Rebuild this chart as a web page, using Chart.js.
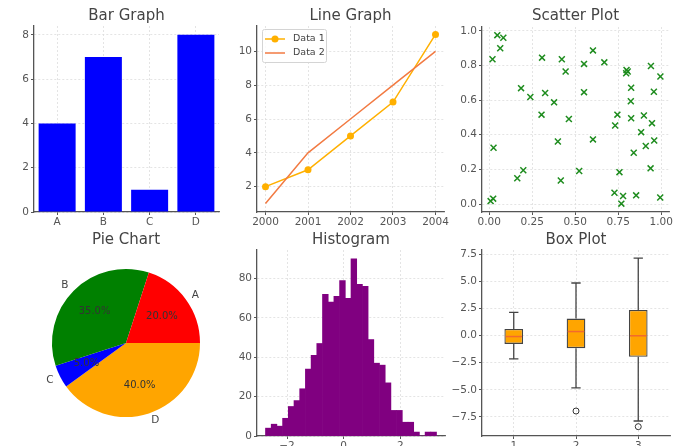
<!DOCTYPE html>
<html>
<head>
<meta charset="utf-8">
<script src="https://cdn.jsdelivr.net/npm/chart.js@4.4.1/dist/chart.umd.min.js"></script>
<style>
  html, body { margin: 0; padding: 0; background: #fff; overflow: hidden; }
  #wrap { position: relative; width: 685px; height: 446px; overflow: hidden; }
  canvas { position: absolute; }
</style>
</head>
<body>
<div id="wrap">
  <canvas id="bar" width="233" height="234" style="left:0;top:0"></canvas>
  <canvas id="line" width="231" height="234" style="left:227px;top:0"></canvas>
  <canvas id="scatter" width="235" height="234" style="left:448px;top:0"></canvas>
  <canvas id="pie" width="252" height="213" style="left:0;top:224px"></canvas>
  <canvas id="hist" width="232" height="234" style="left:227px;top:224px"></canvas>
  <canvas id="box" width="236" height="234" style="left:448px;top:224px"></canvas>
</div>
<script>
// ─── Data ──────────────────────────────────────────────────
const barCategories = ['A', 'B', 'C', 'D'];
const barValues = [4, 7, 1, 8];

const lineYears = [2000, 2001, 2002, 2003, 2004];
const lineData1 = [2, 3, 5, 7, 11];
const lineData2 = [1, 4, 6, 8, 10];

const scatterX = [0.047, 0.082, 0.064, 0.019, 0.025, 0.023, 0.008, 0.163, 0.198, 0.185,
    0.239, 0.307, 0.325, 0.304, 0.377, 0.422, 0.444, 0.463, 0.399, 0.416,
    0.551, 0.551, 0.603, 0.603, 0.523, 0.669, 0.745, 0.732, 0.757, 0.728,
    0.778, 0.768, 0.854, 0.798, 0.805, 0.796, 0.825, 0.823, 0.825, 0.840,
    0.899, 0.883, 0.910, 0.946, 0.959, 0.938, 0.940, 0.957, 0.995, 0.994];
const scatterY = [0.975, 0.960, 0.899, 0.836, 0.325, 0.031, 0.017, 0.149, 0.195, 0.669,
    0.618, 0.845, 0.641, 0.516, 0.587, 0.836, 0.765, 0.491, 0.361, 0.136,
    0.809, 0.646, 0.887, 0.373, 0.191, 0.818, 0.516, 0.453, 0.184, 0.065,
    0.046, 0.002, 0.050, 0.774, 0.765, 0.755, 0.671, 0.593, 0.495, 0.296,
    0.511, 0.415, 0.335, 0.467, 0.367, 0.206, 0.797, 0.648, 0.736, 0.038];

const pieCategories = ['A', 'B', 'C', 'D'];
const pieShares = [20, 35, 5, 40];
const pieColors = ['#ff0000', '#008000', '#0000ff', '#ffa500'];

const histRange = [-2.76, 3.28];   // first and last bin edge, 30 bins
const histCounts = [4, 6, 5, 9, 15, 18, 24, 34, 41, 47, 72, 68, 71, 79, 70,
    90, 77, 76, 49, 37, 36, 27, 13, 13, 7, 7, 2, 0, 2, 2];

const boxPositions = [1, 2, 3];
const boxWhiskerLo = [-2.14, -4.81, -7.87];
const boxQ1 = [-0.77, -1.16, -1.96];
const boxMedian = [-0.09, 0.37, -0.02];
const boxQ3 = [0.61, 1.56, 2.36];
const boxWhiskerHi = [2.14, 4.84, 7.13];
const boxOutliers = [[2, -6.95], [3, -8.39]];

// ─── Shared styling ────────────────────────────────────────
const FONT = "'DejaVu Sans', sans-serif";
Chart.defaults.font.family = FONT;
Chart.defaults.font.size = 10.5;
Chart.defaults.color = '#555';
Chart.defaults.animation = false;
Chart.defaults.plugins.legend.display = false;
Chart.defaults.plugins.tooltip.enabled = false;

const fmt = d => v => Number(v).toFixed(d).replace('-', '\u2212');

function title(text, padTop, padBottom) {
    return {
        display: true, text, fullSize: false, color: '#444',
        font: { size: 15, weight: 'normal' },
        padding: { top: padTop, bottom: padBottom },
    };
}

function axisCommon(vertical, size) {
    return {
        offset: false,
        border: { display: true, color: '#555', width: 1.3, dash: [2, 2] },
        grid: { color: '#dddddd', lineWidth: 0.8, tickLength: 3, tickColor: '#555', tickWidth: 1, offset: false },
        afterFit(scale) { if (vertical) scale.width = size; else scale.height = size; },
    };
}

function linAxis(vertical, size, min, max, step, digits) {
    return Object.assign(axisCommon(vertical, size), {
        type: 'linear', min, max,
        ticks: { stepSize: step, includeBounds: false, autoSkip: false, maxRotation: 0,
                 padding: vertical ? 2 : 1, callback: fmt(digits) },
    });
}

// ─── Bar Graph ─────────────────────────────────────────────
new Chart(document.getElementById('bar'), {
    type: 'bar',
    data: {
        labels: barCategories,
        datasets: [{ data: barValues, backgroundColor: '#0000ff', categoryPercentage: 1, barPercentage: 0.8 }],
    },
    options: {
        responsive: false,
        layout: { padding: { right: 14 } },
        plugins: { title: title('Bar Graph', 7, 1) },
        scales: {
            x: Object.assign(axisCommon(false, 22), { type: 'category', offset: true, ticks: { padding: 1 } }),
            y: linAxis(true, 34, 0, 8.4, 2, 0),
        },
    },
});

// ─── Line Graph ────────────────────────────────────────────
const lineLegend = {
    id: 'lineLegend',
    afterDraw(chart) {
        const { ctx, chartArea } = chart;
        const x0 = chartArea.left + 5, y0 = chartArea.top + 3;
        ctx.save();
        ctx.fillStyle = 'rgba(255,255,255,0.85)';
        ctx.strokeStyle = '#d4d4d4';
        ctx.lineWidth = 1;
        ctx.beginPath();
        ctx.roundRect(x0 + 0.5, y0 + 0.5, 64, 33, 2);
        ctx.fill();
        ctx.stroke();
        chart.data.datasets.forEach((ds, i) => {
            const y = y0 + 10 + i * 14;
            ctx.strokeStyle = ds.borderColor;
            ctx.lineWidth = 1.5;
            ctx.beginPath();
            ctx.moveTo(x0 + 3, y);
            ctx.lineTo(x0 + 23, y);
            ctx.stroke();
            if (ds.pointRadius) {
                ctx.fillStyle = ds.borderColor;
                ctx.beginPath();
                ctx.arc(x0 + 13, y, ds.pointRadius, 0, Math.PI * 2);
                ctx.fill();
            }
            ctx.fillStyle = '#444';
            ctx.font = '9.5px ' + FONT;
            ctx.textBaseline = 'middle';
            ctx.fillText(ds.label, x0 + 31, y);
        });
        ctx.restore();
    },
};

new Chart(document.getElementById('line'), {
    type: 'line',
    data: {
        datasets: [
            {
                label: 'Data 1', order: 1,
                data: lineYears.map((yr, i) => ({ x: yr, y: lineData1[i] })),
                borderColor: '#ffb000', backgroundColor: '#ffb000', borderWidth: 1.5,
                pointRadius: 3.5, pointBorderWidth: 0, tension: 0,
            },
            {
                label: 'Data 2', order: 0,
                data: lineYears.map((yr, i) => ({ x: yr, y: lineData2[i] })),
                borderColor: '#f27a42', borderWidth: 1.5, pointRadius: 0, tension: 0,
            },
        ],
    },
    options: {
        responsive: false,
        layout: { padding: { right: 14 } },
        plugins: { title: title('Line Graph', 7, 1) },
        scales: {
            x: linAxis(false, 22, 1999.8, 2004.2, 1, 0),
            y: linAxis(true, 30, 0.5, 11.5, 2, 0),
        },
    },
    plugins: [lineLegend],
});

// ─── Scatter Plot ──────────────────────────────────────────
new Chart(document.getElementById('scatter'), {
    type: 'scatter',
    data: {
        datasets: [{
            data: scatterX.map((x, i) => ({ x, y: scatterY[i] })),
            pointStyle: 'crossRot', pointRadius: 4.2, borderColor: '#1e8c1e', borderWidth: 1.5,
        }],
    },
    options: {
        responsive: false,
        layout: { padding: { right: 14 } },
        plugins: { title: title('Scatter Plot', 7, 2) },
        scales: {
            x: linAxis(false, 22, -0.042, 1.045, 0.25, 2),
            y: linAxis(true, 34, -0.046, 1.022, 0.2, 1),
        },
    },
});

// ─── Pie Chart ─────────────────────────────────────────────
const pieText = {
    id: 'pieText',
    afterDatasetsDraw(chart) {
        const { ctx } = chart;
        const values = chart.data.datasets[0].data;
        const total = values.reduce((a, b) => a + b, 0);
        ctx.save();
        ctx.textBaseline = 'middle';
        chart.getDatasetMeta(0).data.forEach((arc, i) => {
            const { x, y, startAngle, endAngle, outerRadius } =
                arc.getProps(['x', 'y', 'startAngle', 'endAngle', 'outerRadius'], true);
            const mid = (startAngle + endAngle) / 2;
            const cx = Math.cos(mid), cy = Math.sin(mid);
            ctx.font = '10.5px ' + FONT;
            ctx.fillStyle = '#444';
            ctx.textAlign = cx >= 0 ? 'left' : 'right';
            ctx.fillText(chart.data.labels[i], x + cx * outerRadius * 1.1, y + cy * outerRadius * 1.1);
            ctx.font = '10px ' + FONT;
            ctx.fillStyle = '#333';
            ctx.textAlign = 'center';
            ctx.fillText((values[i] / total * 100).toFixed(1) + '%', x + cx * outerRadius * 0.6, y + cy * outerRadius * 0.6);
        });
        ctx.restore();
    },
};

// matplotlib goes counter-clockwise from 3 o'clock, Chart.js clockwise: reverse order
new Chart(document.getElementById('pie'), {
    type: 'pie',
    data: {
        labels: pieCategories.slice().reverse(),
        datasets: [{
            data: pieShares.slice().reverse(),
            backgroundColor: pieColors.slice().reverse(),
            borderWidth: 0, hoverOffset: 0, offset: 0,
        }],
    },
    options: {
        responsive: false,
        rotation: 90,
        radius: 74,
        layout: { padding: { left: 52, right: 52, bottom: 20 } },
        plugins: { title: title('Pie Chart', 7, 20) },
    },
    plugins: [pieText],
});

// ─── Histogram ─────────────────────────────────────────────
const binWidth = (histRange[1] - histRange[0]) / histCounts.length;
new Chart(document.getElementById('hist'), {
    type: 'bar',
    data: {
        datasets: [{
            data: histCounts.map((c, i) => ({ x: histRange[0] + (i + 0.5) * binWidth, y: c })),
            backgroundColor: '#800080', borderWidth: 0,
            categoryPercentage: 1, barPercentage: 1,
        }],
    },
    options: {
        responsive: false,
        layout: { padding: { right: 14 } },
        plugins: { title: title('Histogram', 7, 1) },
        scales: {
            x: linAxis(false, 22, -3.06, 3.58, 2, 0),
            y: linAxis(true, 30, 0, 94.5, 20, 0),
        },
    },
});

// ─── Box Plot ──────────────────────────────────────────────
const boxWidth = 0.3;
const boxLines = {
    id: 'boxLines',
    afterDatasetsDraw(chart) {
        const { ctx, scales: { x, y } } = chart;
        ctx.save();
        ctx.lineWidth = 1.3;
        boxPositions.forEach((pos, i) => {
            const px = x.getPixelForValue(pos);
            const cap = x.getPixelForValue(pos + boxWidth / 4) - px;
            const half = x.getPixelForValue(pos + boxWidth / 2) - px;
            ctx.strokeStyle = '#444';
            ctx.beginPath();
            ctx.moveTo(px, y.getPixelForValue(boxQ3[i]));
            ctx.lineTo(px, y.getPixelForValue(boxWhiskerHi[i]));
            ctx.moveTo(px - cap, y.getPixelForValue(boxWhiskerHi[i]));
            ctx.lineTo(px + cap, y.getPixelForValue(boxWhiskerHi[i]));
            ctx.moveTo(px, y.getPixelForValue(boxQ1[i]));
            ctx.lineTo(px, y.getPixelForValue(boxWhiskerLo[i]));
            ctx.moveTo(px - cap, y.getPixelForValue(boxWhiskerLo[i]));
            ctx.lineTo(px + cap, y.getPixelForValue(boxWhiskerLo[i]));
            ctx.stroke();
            ctx.strokeStyle = '#f26a2e';
            ctx.lineWidth = 1.5;
            ctx.beginPath();
            ctx.moveTo(px - half + 1, y.getPixelForValue(boxMedian[i]));
            ctx.lineTo(px + half - 1, y.getPixelForValue(boxMedian[i]));
            ctx.stroke();
            ctx.lineWidth = 1.3;
        });
        ctx.restore();
    },
};

new Chart(document.getElementById('box'), {
    type: 'bar',
    data: {
        datasets: [
            {
                data: boxPositions.map((p, i) => ({ x: p, y: [boxQ1[i], boxQ3[i]] })),
                backgroundColor: '#ffa500', borderColor: '#444', borderWidth: 1.3,
                borderSkipped: false, categoryPercentage: 1, barPercentage: boxWidth,
            },
            {
                type: 'scatter',
                data: boxOutliers.map(([x, y]) => ({ x, y })),
                pointRadius: 3, borderColor: '#333', backgroundColor: 'rgba(0,0,0,0)', borderWidth: 1,
            },
        ],
    },
    options: {
        responsive: false,
        layout: { padding: { right: 14 } },
        plugins: { title: title('Box Plot', 7, 1) },
        scales: {
            x: linAxis(false, 22, 0.49, 3.51, 1, 0),
            y: linAxis(true, 34, -9.25, 7.88, 2.5, 1),
        },
    },
    plugins: [boxLines],
});
</script>
</body>
</html>
